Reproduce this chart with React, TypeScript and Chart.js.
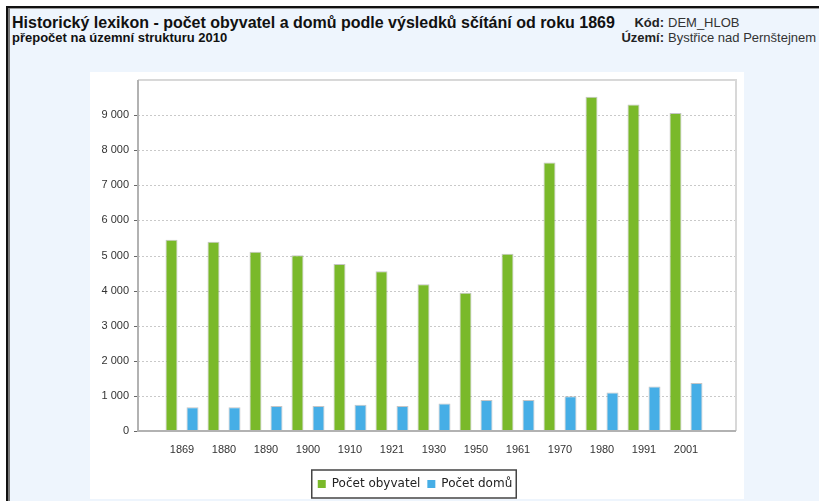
import React, { useEffect, useRef } from "react";
import { Chart, registerables } from "chart.js";

Chart.register(...registerables);

const categories = ["1869", "1880", "1890", "1900", "1910", "1921", "1930", "1950", "1961", "1970", "1980", "1991", "2001"];
const pocetObyvatel = [5450, 5390, 5110, 5010, 4760, 4550, 4180, 3940, 5050, 7650, 9520, 9300, 9060];
const pocetDomu = [680, 680, 710, 710, 750, 710, 780, 880, 880, 990, 1100, 1270, 1370];
const yTickValues = [0, 1000, 2000, 3000, 4000, 5000, 6000, 7000, 8000, 9000];
const seriesLabels = ["Počet obyvatel", "Počet domů"];

const fmt = (v: number) => String(v).replace(/\B(?=(\d{3})+(?!\d))/g, " ");

const FRAME_LEFT_EXTRA = 23;
const FRAME_RIGHT_EXTRA = 29;

const framePlugin = {
  id: "frameGrid",
  beforeDatasetsDraw(chart: any) {
    const { ctx, chartArea: ca, scales } = chart;
    const y = scales.y;
    const L = ca.left - FRAME_LEFT_EXTRA;
    const R = ca.right + FRAME_RIGHT_EXTRA;
    ctx.save();
    ctx.strokeStyle = "#c9c9c9";
    ctx.lineWidth = 1;
    ctx.setLineDash([2, 2]);
    yTickValues.forEach((v) => {
      if (v === 0) return;
      const py = Math.round(y.getPixelForValue(v)) + 0.5;
      ctx.beginPath();
      ctx.moveTo(L, py);
      ctx.lineTo(R, py);
      ctx.stroke();
    });
    ctx.setLineDash([]);
    ctx.strokeStyle = "#d8d8d8";
    ctx.lineWidth = 2;
    ctx.beginPath();
    ctx.moveTo(L, ca.top);
    ctx.lineTo(R, ca.top);
    ctx.lineTo(R, ca.bottom);
    ctx.stroke();
    ctx.restore();
  },
  afterDatasetsDraw(chart: any) {
    const { ctx, chartArea: ca, scales } = chart;
    const y = scales.y;
    const L = ca.left - FRAME_LEFT_EXTRA;
    const R = ca.right + FRAME_RIGHT_EXTRA;
    ctx.save();
    ctx.strokeStyle = "#b2b2b2";
    ctx.lineWidth = 2;
    ctx.beginPath();
    ctx.moveTo(L, ca.top);
    ctx.lineTo(L, ca.bottom);
    ctx.lineTo(R, ca.bottom);
    ctx.stroke();
    ctx.strokeStyle = "#666";
    ctx.lineWidth = 1;
    yTickValues.forEach((v) => {
      const py = Math.round(y.getPixelForValue(v)) + 0.5;
      ctx.beginPath();
      ctx.moveTo(L - 4, py);
      ctx.lineTo(L - 1, py);
      ctx.stroke();
    });
    ctx.restore();
  },
  afterDraw(chart: any) {
    const lg = chart.legend;
    if (!lg || !lg.legendHitBoxes || !lg.legendHitBoxes.length) return;
    const hb = lg.legendHitBoxes;
    const first = hb[0];
    const last = hb[hb.length - 1];
    const left = first.left - 6;
    const right = last.left + last.width + 4;
    const top = first.top - 8;
    const bottom = first.top + first.height + 8;
    const ctx = chart.ctx;
    ctx.save();
    ctx.strokeStyle = "#444";
    ctx.lineWidth = 1.5;
    ctx.strokeRect(left, top, right - left, bottom - top);
    ctx.restore();
  },
};

export default function App() {
  const ref = useRef<HTMLCanvasElement>(null);

  useEffect(() => {
    const prev = document.body.style.margin;
    document.body.style.margin = "0";
    const canvas = ref.current!;
    const tickFont = { family: '"Liberation Sans", Arial, sans-serif', size: 11 };
    const chart = new Chart(canvas, {
      type: "bar",
      data: {
        labels: categories,
        datasets: [
          {
            label: seriesLabels[0],
            data: pocetObyvatel,
            backgroundColor: "#7ab92a",
            borderColor: "rgba(150,150,150,0.55)",
            borderWidth: 1,
            categoryPercentage: 1.0,
            barPercentage: 0.57,
          },
          {
            label: seriesLabels[1],
            data: pocetDomu,
            backgroundColor: "#46aee6",
            borderColor: "rgba(150,150,150,0.55)",
            borderWidth: 1,
            categoryPercentage: 1.0,
            barPercentage: 0.57,
          },
        ],
      },
      options: {
        responsive: false,
        animation: false,
        layout: { padding: { top: 8, left: 0, right: 4, bottom: 1 } },
        scales: {
          x: {
            grid: { display: false, drawTicks: false },
            border: { display: false },
            ticks: {
              color: "#333",
              font: tickFont,
              padding: 12,
              maxRotation: 0,
              autoSkip: false,
            },
            afterFit(scale: any) {
              scale.height = 40;
              scale.paddingLeft = 0;
              scale.paddingRight = 0;
            },
          },
          y: {
            position: "left",
            min: 0,
            max: 10000,
            grid: { display: false, drawTicks: false },
            border: { display: false },
            ticks: {
              stepSize: 1000,
              color: "#333",
              font: tickFont,
              padding: 32,
              callback: (v: any) => (yTickValues.includes(Number(v)) ? fmt(Number(v)) : ""),
            },
            afterFit(scale: any) {
              scale.width = 71;
              scale.paddingTop = 0;
              scale.paddingBottom = 0;
            },
          },
          yRight: {
            type: "linear",
            position: "right",
            display: true,
            grid: { display: false, drawTicks: false },
            border: { display: false },
            ticks: { display: false },
            afterFit(scale: any) {
              scale.width = 33;
              scale.paddingTop = 0;
              scale.paddingBottom = 0;
            },
          },
        },
        plugins: {
          legend: {
            display: true,
            position: "bottom",
            labels: {
              boxWidth: 8,
              boxHeight: 8,
              padding: 7,
              color: "#222",
              font: { family: '"DejaVu Sans", Verdana, sans-serif', size: 12 },
              generateLabels(c: any) {
                return Chart.defaults.plugins.legend.labels
                  .generateLabels(c)
                  .map((l: any) => ({ ...l, lineWidth: 0, strokeStyle: "rgba(0,0,0,0)" }));
              },
            },
          },
          tooltip: { enabled: false },
          title: { display: false },
        },
      },
      plugins: [framePlugin],
    });
    return () => {
      chart.destroy();
      document.body.style.margin = prev;
    };
  }, []);

  const abs = (s: React.CSSProperties): React.CSSProperties => ({ position: "absolute", ...s });
  const font = '"Liberation Sans", Arial, Helvetica, sans-serif';

  return (
    <div style={{ position: "fixed", left: 0, top: 0, width: 819, height: 501, background: "#fff", overflow: "hidden", fontFamily: font }}>
      <div style={abs({ left: 10, top: 9, width: 820, height: 500, background: "#eef5fd" })} />
      <div style={abs({ left: 6, top: 6, width: 830, height: 2, background: "#111" })} />
      <div style={abs({ left: 6, top: 6, width: 2, height: 500, background: "#111" })} />
      <div style={abs({ left: 8, top: 8, width: 830, height: 1, background: "#9a9a9a" })} />
      <div style={abs({ left: 8, top: 8, width: 2, height: 500, background: "#7a7a7a" })} />
      <div style={abs({ left: 90, top: 72, width: 654, height: 427, background: "#fff" })} />

      <div style={abs({ left: 12, top: 14, lineHeight: "18px", fontSize: 16, fontWeight: "bold", color: "#111", whiteSpace: "nowrap" })}>
        Historický lexikon - počet obyvatel a domů podle výsledků sčítání od roku 1869
      </div>
      <div style={abs({ left: 12, top: 30, lineHeight: "15px", fontSize: 13, fontWeight: "bold", color: "#111", whiteSpace: "nowrap" })}>
        přepočet na územní strukturu 2010
      </div>
      <div style={abs({ left: 560, width: 104, top: 15, lineHeight: "15px", fontSize: 13, fontWeight: "bold", color: "#222", textAlign: "right", whiteSpace: "nowrap" })}>
        Kód:
      </div>
      <div style={abs({ left: 668, top: 15, lineHeight: "15px", fontSize: 13, color: "#333", whiteSpace: "nowrap" })}>
        DEM_HLOB
      </div>
      <div style={abs({ left: 560, width: 104, top: 30, lineHeight: "15px", fontSize: 13, fontWeight: "bold", color: "#222", textAlign: "right", whiteSpace: "nowrap" })}>
        Území:
      </div>
      <div style={abs({ left: 668, top: 30, lineHeight: "15px", fontSize: 13, color: "#333", whiteSpace: "nowrap" })}>
        Bystřice nad Pernštejnem
      </div>

      <canvas ref={ref} width={654} height={429} style={abs({ left: 90, top: 72, width: 654, height: 429 })} />
    </div>
  );
}
